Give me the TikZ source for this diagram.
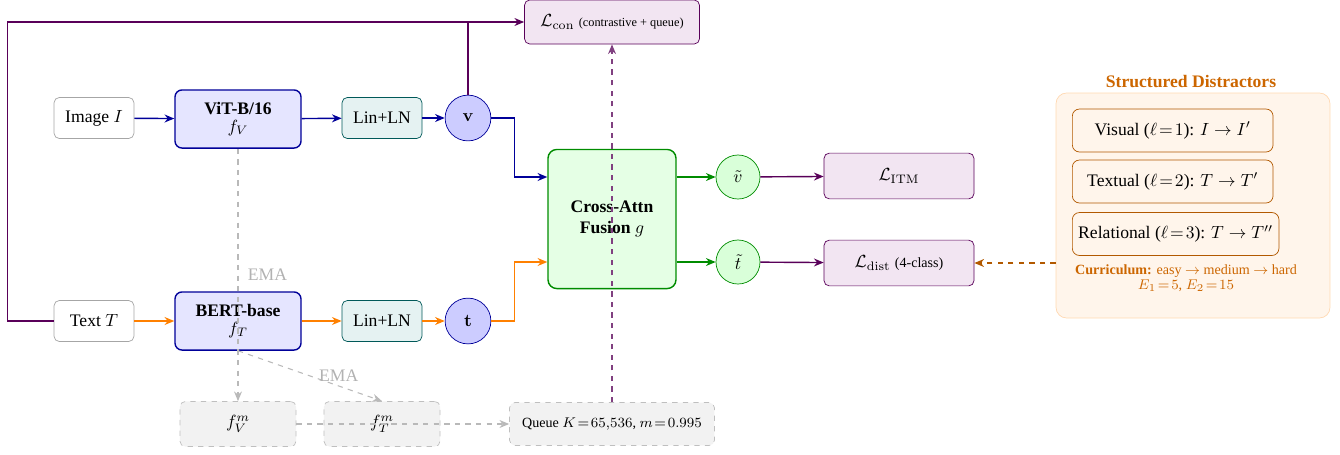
\documentclass[tikz,border=0pt]{standalone}
\usepackage{amsmath, amssymb}
\usepackage[no-math]{fontspec}
\setmainfont{Liberation Serif}
\usepackage{xcolor}
\usepackage{tikz}
\usetikzlibrary{
  arrows.meta,
  positioning,
  calc
}

\begin{document}
\begin{tikzpicture}[
  x=0.568pt, y=-0.568pt,
  >={Stealth[length=5.5pt,width=4.5pt]},
  iobox/.style={draw=gray!70, fill=white, rounded corners=3pt, minimum width=45.4pt, minimum height=23.3pt},
  encbox/.style={draw=blue!60!black, fill=blue!10, line width=0.8pt, rounded corners=4pt, minimum width=71.6pt, minimum height=33pt, align=center},
  projbox/.style={draw=teal!70!black, fill=teal!10, rounded corners=3pt, minimum width=45.4pt, minimum height=23.3pt},
  embnode/.style={circle, draw=blue!60!black, fill=blue!20, minimum size=26pt, inner sep=0pt},
  fusebox/.style={draw=green!55!black, fill=green!10, line width=0.8pt, rounded corners=5pt, minimum width=72.7pt, minimum height=79pt, align=center},
  fusenode/.style={circle, draw=green!55!black, fill=green!15, minimum size=25pt, inner sep=0pt},
  lossbox/.style={draw=violet!70!black, fill=violet!10, rounded corners=3pt, minimum width=85.2pt, minimum height=26pt},
  momentbox/.style={draw=gray!50, fill=gray!10, dashed, rounded corners=3pt, minimum width=65.9pt, minimum height=25.6pt},
  distbox/.style={draw=orange!70!black, fill=orange!8, rounded corners=4pt, minimum width=114pt, minimum height=24.4pt, anchor=west},
  visflow/.style={draw=blue!60!black, line width=0.8pt, ->},
  txtflow/.style={draw=orange, line width=0.8pt, ->},
  fuseflow/.style={draw=green!55!black, line width=0.8pt, ->},
  lossflow/.style={draw=violet!70!black, line width=0.8pt, ->},
  emaflow/.style={draw=gray!55, dashed, line width=0.6pt, ->}
]
\useasboundingbox (0,0) rectangle (1340,454);

% --- visual branch ---
\node[iobox] (img) at (94,118) {Image $I$};
\node[encbox] (vit) at (238,119) {\textbf{ViT-B/16}\\[-2pt]$f_V$};
\node[projbox] (vproj) at (382,118) {Lin+LN};
\node[embnode] (v) at (468,118) {$\mathbf{v}$};

% --- text branch ---
\node[iobox] (txt) at (94,321) {Text $T$};
\node[encbox] (bert) at (238,321) {\textbf{BERT-base}\\[-2pt]$f_T$};
\node[projbox] (tproj) at (382,321) {Lin+LN};
\node[embnode] (t) at (468,321) {$\mathbf{t}$};

% --- fusion and losses ---
\node[fusebox] (fuse) at (612,219) {\textbf{Cross-Attn}\\\textbf{Fusion} $g$};
\node[fusenode] (vtil) at (738,177) {$\tilde{v}$};
\node[fusenode] (ttil) at (738,262) {$\tilde{t}$};
\node[lossbox] (litm) at (899,176) {$\mathcal{L}_{\mathrm{ITM}}$};
\node[lossbox] (ldist) at (899,263) {$\mathcal{L}_{\mathrm{dist}}$ {\footnotesize(4-class)}};
\node[lossbox, minimum width=99.4pt, minimum height=25pt] (lcon) at (612,22) {$\mathcal{L}_{\mathrm{con}}$ {\scriptsize(contrastive + queue)}};

% --- momentum encoders and queue ---
\node[momentbox] (fvm) at (238,424) {$f_V^m$};
\node[momentbox] (ftm) at (382,424) {$f_T^m$};
\node[momentbox, minimum width=116.4pt, minimum height=24.4pt, font=\footnotesize] (queue) at (612,424) {Queue $K\!=\!65{,}536$, $m\!=\!0.995$};

% --- structured distractors ---
\node[draw=orange!30, fill=orange!8, rounded corners=6pt, minimum width=155.6pt, minimum height=127.8pt] (distr) at (1193,205.5) {};
\node[font=\bfseries, text=orange!80!black] (distrtitle) at (1191,81) {Structured Distractors};
\node[distbox] (dvis) at (1072,130.5) {Visual ($\ell\!=\!1$): $I\rightarrow I'$};
\node[distbox] (dtxt) at (1072,181.5) {Textual ($\ell\!=\!2$): $T\rightarrow T'$};
\node[distbox] (drel) at (1072,234) {Relational ($\ell\!=\!3$): $T\rightarrow T''$};
\node[font=\footnotesize, text=orange!80!black, align=center] (curric) at (1186,278) {\textbf{Curriculum:} easy $\rightarrow$ medium $\rightarrow$ hard\\[-1pt]$E_1\!=\!5$, $E_2\!=\!15$};

% flows
\draw[visflow] (img) -- (vit);
\draw[visflow] (vit) -- (vproj);
\draw[visflow] (vproj) -- (v);
\draw[visflow] (v.east) -- ++(23,0) |- (fuse.west |- vtil);
\draw[txtflow] (txt) -- (bert);
\draw[txtflow] (bert) -- (tproj);
\draw[txtflow] (tproj) -- (t);
\draw[txtflow] (t.east) -- ++(23,0) |- (fuse.west |- ttil);
\draw[fuseflow] (fuse.east |- vtil) -- (vtil);
\draw[fuseflow] (fuse.east |- ttil) -- (ttil);
\draw[lossflow] (vtil) -- (litm);
\draw[lossflow] (ttil) -- (ldist);

% contrastive path
\draw[lossflow] (txt.west) -- ++(-46,0) |- (lcon.west);
\draw[draw=violet!70!black, line width=0.8pt] (v.north) -- (v.north |- lcon.west);
\draw[draw=violet!50!gray, dashed, line width=0.7pt, ->] (queue) -- (lcon);

% distractors into loss
\draw[draw=orange!70!black, dashed, line width=1pt, ->] (distr.west |- ldist) -- (ldist.east);

% EMA updates
\draw[emaflow] (vit.south) -- node[pos=0.5, right, xshift=2pt, text=gray!60] {EMA} (fvm.north);
\draw[emaflow] (bert.south) -- node[pos=0.7, above, inner sep=2pt, text=gray!60] {EMA} (ftm.north);
\draw[emaflow] (fvm.east) -- (queue.west);

\end{tikzpicture}
\end{document}
